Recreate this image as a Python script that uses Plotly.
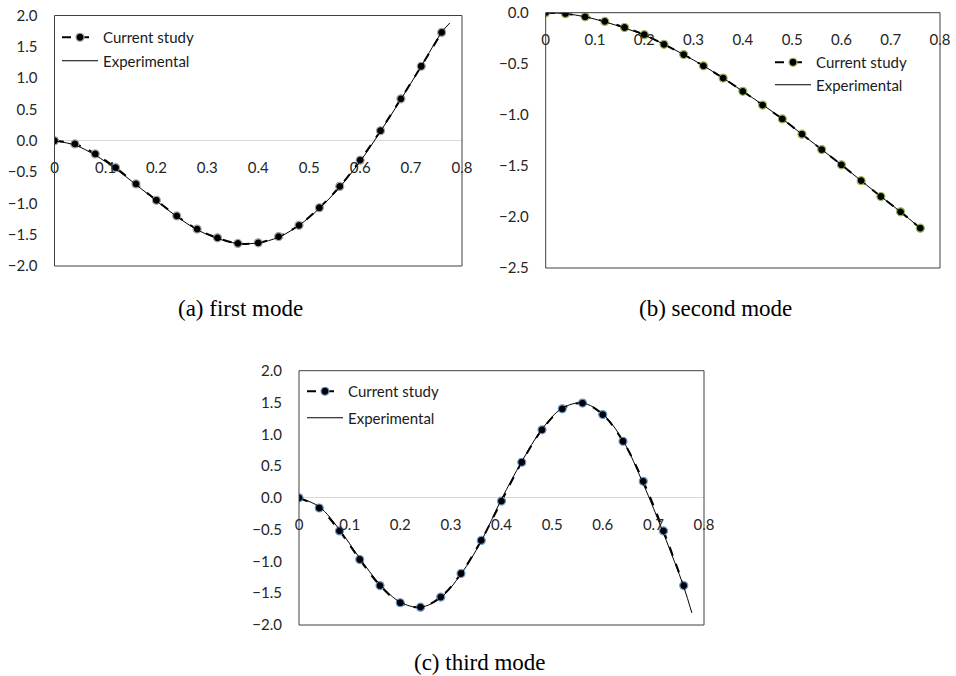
import plotly.graph_objects as go

x_pts = [0, 0.04, 0.08, 0.12, 0.16, 0.20, 0.24, 0.28, 0.32, 0.36, 0.40,
         0.44, 0.48, 0.52, 0.56, 0.60, 0.64, 0.68, 0.72, 0.76]
x_exp = x_pts + [0.776]

mode1_current = [0, -0.05, -0.21, -0.43, -0.69, -0.95, -1.20, -1.41, -1.55, -1.64, -1.63,
                 -1.53, -1.35, -1.07, -0.73, -0.31, 0.16, 0.67, 1.19, 1.73]
mode1_exp = [0, -0.07, -0.23, -0.45, -0.70, -0.96, -1.21, -1.42, -1.56, -1.64, -1.63,
             -1.54, -1.35, -1.08, -0.74, -0.33, 0.15, 0.66, 1.19, 1.73, 1.88]

x_exp2 = x_pts
mode2_current = [0, -0.01, -0.04, -0.085, -0.145, -0.215, -0.31, -0.41, -0.52, -0.64, -0.77,
                 -0.905, -1.04, -1.19, -1.34, -1.49, -1.645, -1.80, -1.95, -2.11]
mode2_exp = [0, -0.01, -0.04, -0.09, -0.15, -0.22, -0.31, -0.41, -0.52, -0.64, -0.77,
             -0.90, -1.04, -1.19, -1.34, -1.49, -1.645, -1.80, -1.95, -2.11]

mode3_current = [0, -0.16, -0.52, -0.97, -1.38, -1.65, -1.72, -1.56, -1.19, -0.67, -0.05,
                 0.56, 1.07, 1.40, 1.49, 1.31, 0.89, 0.26, -0.52, -1.38]
mode3_exp = [0, -0.14, -0.50, -0.95, -1.36, -1.64, -1.72, -1.57, -1.20, -0.68, -0.02,
             0.57, 1.08, 1.41, 1.49, 1.32, 0.90, 0.22, -0.56, -1.40, -1.81]

x_ticks = [0, 0.1, 0.2, 0.3, 0.4, 0.5, 0.6, 0.7, 0.8]
x_ticktext = ["0", "0.1", "0.2", "0.3", "0.4", "0.5", "0.6", "0.7", "0.8"]
y_ticks_13 = [-2.0, -1.5, -1.0, -0.5, 0.0, 0.5, 1.0, 1.5, 2.0]
y_ticks_2 = [-2.5, -2.0, -1.5, -1.0, -0.5, 0.0]

captions = ["(a) first mode", "(b) second mode", "(c) third mode"]

W, H = 956, 676
TICKFONT = dict(family="Lato, Open Sans, sans-serif", size=15, color="#262626")


def px_x(v):
    return v / W


def px_y(v):
    return 1 - v / H


fig = go.Figure()

panels = [
    dict(ax="", cur=mode1_current, exp=mode1_exp, xe=x_exp, edge="#a6a6a6", legend="legend"),
    dict(ax="2", cur=mode2_current, exp=mode2_exp, xe=x_exp2, edge="#9bbb59", legend="legend2"),
    dict(ax="3", cur=mode3_current, exp=mode3_exp, xe=x_exp, edge="#6f9bd1", legend="legend3"),
]

for p in panels:
    xa = "x" + p["ax"]
    ya = "y" + p["ax"]
    fig.add_trace(go.Scatter(
        x=x_pts, y=p["cur"], xaxis=xa, yaxis=ya, name="Current study",
        mode="lines+markers", legend=p["legend"], legendgroup=p["legend"] + "c",
        line=dict(color="black", width=2, dash="dash", shape="spline"),
        marker=dict(size=8, color="black", line=dict(color=p["edge"], width=1.2)),
    ))
    fig.add_trace(go.Scatter(
        x=p["xe"], y=p["exp"], xaxis=xa, yaxis=ya, name="Experimental",
        mode="lines", legend=p["legend"], legendgroup=p["legend"] + "e",
        line=dict(color="black", width=1, shape="spline"),
    ))

doms = {
    "": dict(x=[px_x(54.5), px_x(462)], y=[px_y(266), px_y(15.5)], rng=[-2, 2], yt=y_ticks_13),
    "2": dict(x=[px_x(545.7), px_x(940)], y=[px_y(268), px_y(12.7)], rng=[-2.5, 0], yt=y_ticks_2),
    "3": dict(x=[px_x(299), px_x(704)], y=[px_y(625), px_y(370.7)], rng=[-2, 2], yt=y_ticks_13),
}

layout = {}
for k, d in doms.items():
    y0, y1 = d["y"]
    r0, r1 = d["rng"]
    zero_pos = y0 + (0 - r0) / (r1 - r0) * (y1 - y0)
    layout["xaxis" + k] = dict(
        domain=d["x"], range=[0, 0.8], anchor="free", position=zero_pos,
        tickvals=x_ticks, ticktext=x_ticktext, showgrid=False, zeroline=False,
        showline=False, ticks="", tickfont=TICKFONT, ticklabelstandoff=16,
        automargin=False, ticklabeloverflow="allow",
    )
    layout["yaxis" + k] = dict(
        domain=d["y"], range=d["rng"], anchor="x" + k, tickvals=d["yt"],
        tickformat=".1f", showgrid=False, zeroline=True, zerolinecolor="#d9d9d9",
        zerolinewidth=1, showline=False, ticks="", tickfont=TICKFONT,
        ticklabelstandoff=16, automargin=False, ticklabeloverflow="allow",
    )

fig.update_layout(**layout)

for k in ["", "2", "3"]:
    fig.add_shape(type="rect", xref="x%s domain" % k, yref="y%s domain" % k,
                  x0=0, x1=1, y0=0, y1=1, line=dict(color="#404040", width=1),
                  fillcolor="rgba(0,0,0,0)", layer="above")

legfont = dict(family="Lato, Open Sans, sans-serif", size=15, color="#1a1a1a")
fig.update_layout(
    legend=dict(x=px_x(57), y=px_y(21), xanchor="left", yanchor="top",
                bgcolor="rgba(255,255,255,0)", font=legfont, tracegroupgap=1,
                itemwidth=36),
    legend2=dict(x=px_x(770), y=px_y(46), xanchor="left", yanchor="top",
                 bgcolor="rgba(255,255,255,0)", font=legfont, tracegroupgap=0,
                 itemwidth=36),
    legend3=dict(x=px_x(302), y=px_y(375), xanchor="left", yanchor="top",
                 bgcolor="rgba(255,255,255,0)", font=legfont, tracegroupgap=4,
                 itemwidth=36),
)

cap_pos = [(240, 308), (715, 308), (480, 662)]
for text, (cx, cy) in zip(captions, cap_pos):
    fig.add_annotation(text=text, x=px_x(cx), y=px_y(cy), xref="paper", yref="paper",
                       showarrow=False, xanchor="center", yanchor="middle",
                       font=dict(family="Liberation Serif, Times New Roman, serif",
                                 size=23, color="black"))

fig.update_layout(
    width=W, height=H, margin=dict(l=0, r=0, t=0, b=0),
    paper_bgcolor="white", plot_bgcolor="white", showlegend=True,
)

fig.write_html(
    "out.html",
    config={"displayModeBar": False},
    post_script="document.body.style.margin='0';document.body.style.overflow='hidden';",
)
